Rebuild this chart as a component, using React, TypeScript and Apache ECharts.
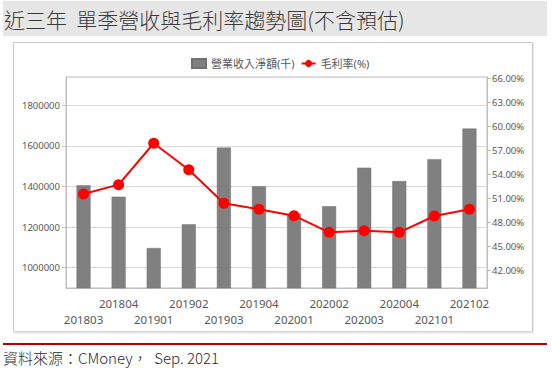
import React, { useEffect, useRef } from "react";
import * as echarts from "echarts";

const categories = ["201803", "201804", "201901", "201902", "201903", "201904", "202001", "202002", "202003", "202004", "202101", "202102"];
const revenue = [1406000, 1350000, 1097000, 1214000, 1592000, 1402000, 1266000, 1303000, 1493000, 1427000, 1535000, 1686000];
const grossMargin = [51.51, 52.68, 57.86, 54.55, 50.35, 49.6, 48.8, 46.72, 46.92, 46.72, 48.76, 49.6];
const titleText = "近三年  單季營收與毛利率趨勢圖(不含預估)";
const sourceText = "資料來源：CMoney，  Sep. 2021";
const seriesNames = ["營業收入淨額(千)", "毛利率(%)"];

const FONT = "'Noto Sans', 'Noto Sans CJK TC', sans-serif";
const LABEL = "#595959";

export default function App() {
  const ref = useRef<HTMLDivElement>(null);
  useEffect(() => {
    if (!ref.current) return;
    const chart = echarts.init(ref.current, null, { renderer: "svg" });
    chart.setOption({
      animation: false,
      backgroundColor: "#ffffff",
      textStyle: { fontFamily: FONT },
      graphic: [
        { type: "rect", shape: { x: 3, y: 1, width: 544, height: 35 }, style: { fill: "#e6e6e6" }, z: 0 },
        { type: "text", x: 4, y: 19, style: { text: titleText, font: "300 21px 'Noto Sans CJK TC', sans-serif", fill: "#3a3a3a", verticalAlign: "middle" }, z: 1 },
        { type: "rect", shape: { x: 13.5, y: 42.5, width: 519, height: 289 }, style: { fill: "none", stroke: "#c8c8c8", lineWidth: 1 }, z: 0 },
        { type: "line", shape: { x1: 14, y1: 332.5, x2: 533, y2: 332.5 }, style: { stroke: "#e4e4e4", lineWidth: 2 }, z: 0 },
        { type: "line", shape: { x1: 533.5, y1: 43, x2: 533.5, y2: 333 }, style: { stroke: "#ececec", lineWidth: 1 }, z: 0 },
        { type: "line", shape: { x1: 3, y1: 344, x2: 547, y2: 344 }, style: { stroke: "#b40000", lineWidth: 2 }, z: 0 },
        { type: "text", x: 3, y: 357, style: { text: sourceText, font: "300 15px 'Noto Sans CJK TC', sans-serif", fill: "#2a2a2a", verticalAlign: "middle" }, z: 1 },
      ],
      legend: {
        left: 186,
        top: 53,
        itemWidth: 14,
        itemHeight: 9,
        itemGap: 6,
        textStyle: { fontSize: 11, color: LABEL, fontFamily: FONT },
        data: [
          { name: seriesNames[0], icon: "rect" },
          { name: seriesNames[1] },
        ],
      },
      grid: {
        left: 66,
        right: 65,
        top: 77,
        bottom: 97,
        show: true,
        borderColor: "#bfbfbf",
        borderWidth: 1,
        containLabel: false,
      },
      xAxis: {
        type: "category",
        data: categories,
        axisLine: { lineStyle: { color: "#bfbfbf" } },
        axisTick: { alignWithLabel: true, length: 4, lineStyle: { color: "#bfbfbf" } },
        axisLabel: {
          interval: 0,
          color: LABEL,
          fontSize: 11.5,
          margin: 7,
          lineHeight: 16,
          formatter: (v: string, i: number) => (i % 2 === 0 ? "\n" + v : v),
        },
      },
      yAxis: [
        {
          type: "value",
          min: 900000,
          max: 1940000,
          minInterval: 200000,
          maxInterval: 200000,
          axisLine: { show: true, lineStyle: { color: "#bfbfbf" } },
          axisTick: { show: true, length: 4, lineStyle: { color: "#bfbfbf" } },
          axisLabel: {
            color: LABEL,
            fontSize: 9.5,
            margin: 6,
            showMinLabel: false,
            showMaxLabel: false,
            formatter: (v: number) => String(v),
          },
          splitLine: { lineStyle: { color: "#d9d9d9" } },
        },
        {
          type: "value",
          min: 39.75,
          max: 66.15,
          minInterval: 3,
          maxInterval: 3,
          axisLine: { show: true, lineStyle: { color: "#bfbfbf" } },
          axisTick: { show: true, length: 4, lineStyle: { color: "#bfbfbf" } },
          axisLabel: {
            color: LABEL,
            fontSize: 9.5,
            margin: 5,
            showMinLabel: false,
            showMaxLabel: false,
            formatter: (v: number) => v.toFixed(2) + "%",
          },
          splitLine: { show: false },
        },
      ],
      series: [
        {
          name: seriesNames[0],
          type: "bar",
          data: revenue,
          barWidth: 14,
          itemStyle: { color: "#808080", borderColor: "#707070", borderWidth: 0.5 },
          z: 2,
        },
        {
          name: seriesNames[1],
          type: "line",
          yAxisIndex: 1,
          data: grossMargin,
          symbol: "circle",
          symbolSize: 11,
          lineStyle: { color: "#ff0000", width: 2 },
          itemStyle: { color: "#ff0000" },
          z: 3,
        },
      ],
    });
    return () => chart.dispose();
  }, []);
  return <div ref={ref} style={{ position: "absolute", left: 0, top: 0, width: 552, height: 385 }} />;
}
